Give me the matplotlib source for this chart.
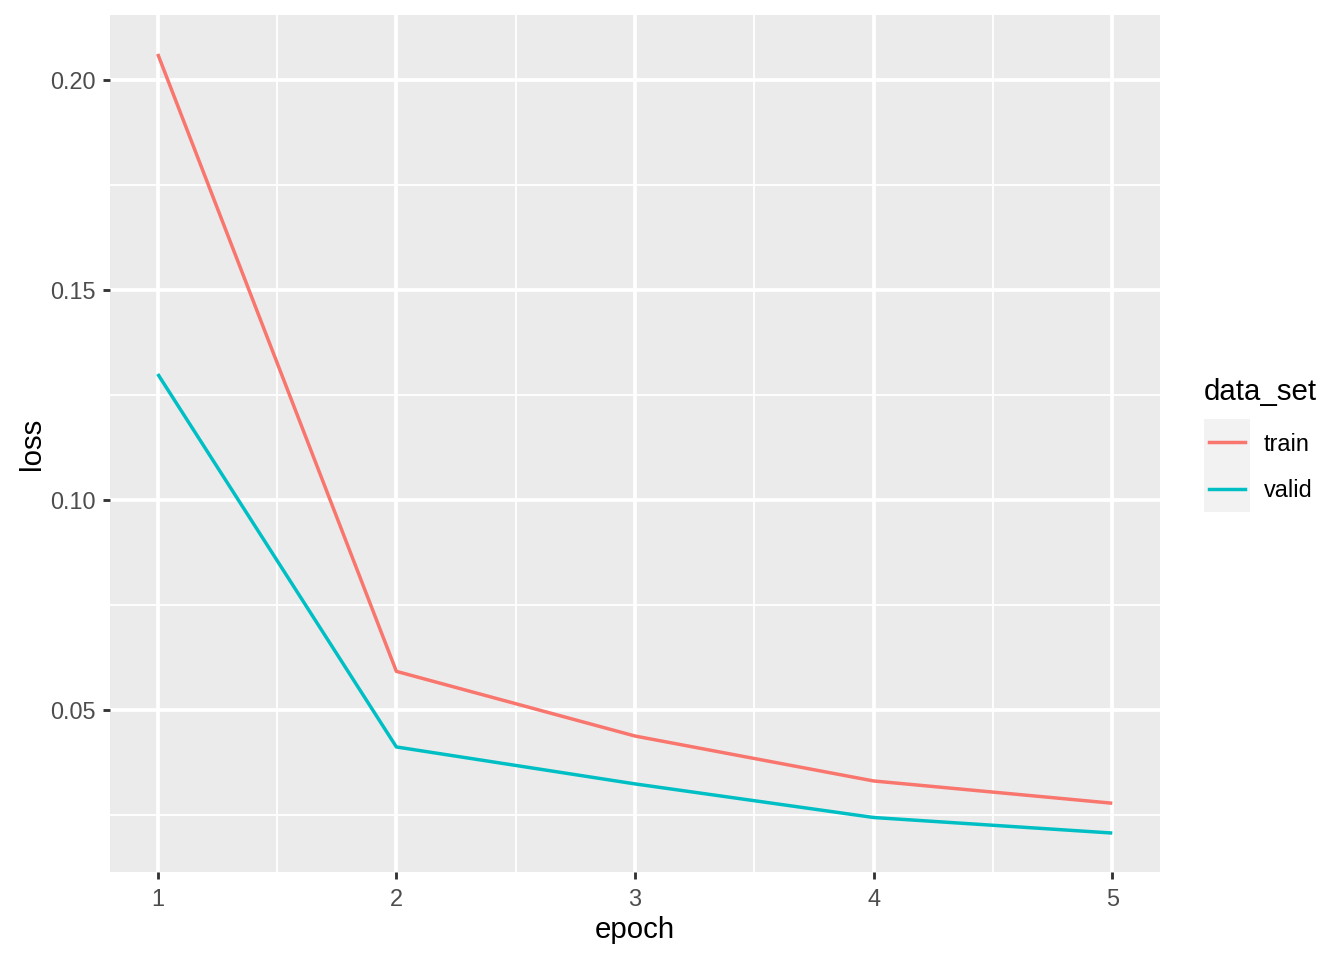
import matplotlib
matplotlib.use("Agg")
import matplotlib.pyplot as plt
from matplotlib.patches import Rectangle
from matplotlib.lines import Line2D
from matplotlib.ticker import MultipleLocator

plt.rcParams['font.family'] = ['Liberation Sans', 'DejaVu Sans']

# data
epoch = [1, 2, 3, 4, 5]
train_loss = [0.2062, 0.0592, 0.0438, 0.0331, 0.0278]
valid_loss = [0.1300, 0.0412, 0.0324, 0.0244, 0.0207]
series_names = ['train', 'valid']
series_colors = ['#F8766D', '#00BFC4']

W, H = 1344, 960
fig = plt.figure(figsize=(7, 5), dpi=192)

# panel in pixel coords of the reference
px0, px1, py0, py1 = 110, 1160, 15, 872
ax = fig.add_axes([px0 / W, 1 - py1 / H, (px1 - px0) / W, (py1 - py0) / H])
ax.set_facecolor('#EBEBEB')
for s in ax.spines.values():
    s.set_visible(False)

for y, name, col in zip([train_loss, valid_loss], series_names, series_colors):
    ax.plot(epoch, y, color=col, lw=1.3, solid_capstyle='butt', zorder=3)

# ggplot-like expansion (5%)
allv = train_loss + valid_loss
lo, hi = min(allv), max(allv)
ax.set_ylim(lo - 0.05 * (hi - lo), hi + 0.05 * (hi - lo))
ax.set_xlim(min(epoch) - 0.05 * 4, max(epoch) + 0.05 * 4)

ax.xaxis.set_major_locator(MultipleLocator(1))
ax.xaxis.set_minor_locator(MultipleLocator(0.5))
ax.yaxis.set_major_locator(MultipleLocator(0.05))
ax.yaxis.set_minor_locator(MultipleLocator(0.025))
ax.yaxis.set_major_formatter(plt.FuncFormatter(lambda v, p: f'{v:.2f}'))

ax.grid(which='major', color='white', lw=1.42)
ax.grid(which='minor', color='white', lw=0.71)
ax.set_axisbelow(True)

ax.tick_params(which='major', length=2.75, width=1.07, color='#333333',
               labelsize=8.8, labelcolor='#4D4D4D')
ax.tick_params(axis='x', which='major', pad=3.3)
ax.tick_params(axis='y', which='major', pad=2.6)
ax.tick_params(which='minor', length=0)

ax.set_xlabel('epoch', fontsize=11, color='black', labelpad=2)
ax.set_ylabel('loss', fontsize=11, color='black', labelpad=1.5)

# legend drawn by hand, ggplot style
fig.text(1204 / W, 1 - 392 / H, 'data_set', fontsize=11, va='center', ha='left')
key_top = 419
key_h = 46.5
for i, (name, col) in enumerate(zip(series_names, series_colors)):
    top = key_top + i * key_h
    fig.patches.append(Rectangle((1204 / W, 1 - (top + key_h) / H), 46 / W, key_h / H,
                                 transform=fig.transFigure, facecolor='#F2F2F2',
                                 edgecolor='none'))
    yc = 1 - (top + key_h / 2) / H
    fig.lines.append(Line2D([1209 / W, 1245 / W], [yc, yc], transform=fig.transFigure,
                            color=col, lw=1.3))
    fig.text(1264 / W, yc - 2 / H, name, fontsize=8.8, va='center', ha='left')

fig.savefig('out.png', dpi=192)
